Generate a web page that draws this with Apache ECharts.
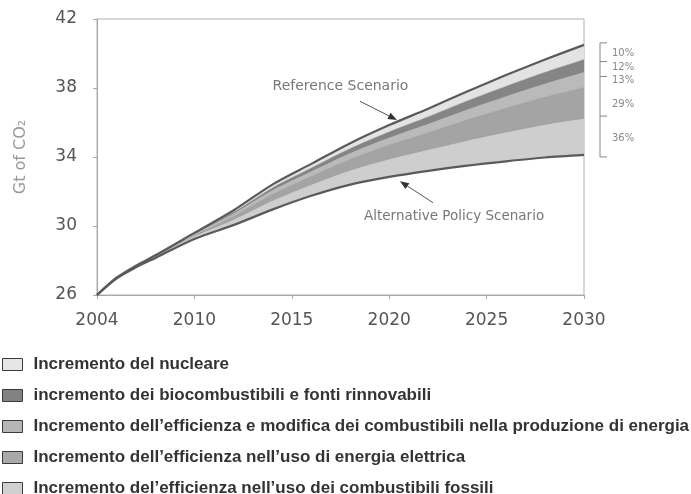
<!DOCTYPE html>
<html>
<head>
<meta charset="utf-8">
<script src="https://cdn.jsdelivr.net/npm/echarts@6/dist/echarts.min.js"></script>
<style>
html,body{margin:0;padding:0;background:#fff;}
#c{width:691px;height:494px;}
</style>
</head>
<body>
<div id="c"></div>
<script>
// Axis positions (the first position is drawn and labelled as 2004 in the source)
const years = [2005, 2006, 2007, 2008, 2010, 2012, 2014, 2016, 2018, 2020, 2022, 2024, 2026, 2028, 2030];
const xTickLabels = {2005: '2004', 2010: '2010', 2015: '2015', 2020: '2020', 2025: '2025', 2030: '2030'};
const yTicks = [26, 30, 34, 38, 42];

const referenceScenario   = [26.0, 27.0, 27.7, 28.3, 29.6, 30.9, 32.4, 33.6, 34.8, 35.85, 36.8, 37.8, 38.75, 39.65, 40.5];
const alternativeScenario = [26.0, 26.95, 27.6, 28.15, 29.25, 30.05, 30.95, 31.75, 32.4, 32.85, 33.2, 33.5, 33.75, 33.97, 34.12];

// Reductions (Gt) stacked above the Alternative Policy Scenario
const fossilEff  = [0, 0.02, 0.03, 0.05, 0.12, 0.28, 0.48, 0.61, 0.79, 0.99, 1.19, 1.42, 1.65, 1.87, 2.08];
const elecEff    = [0, 0.015, 0.03, 0.045, 0.10, 0.25, 0.42, 0.54, 0.70, 0.87, 1.04, 1.25, 1.45, 1.65, 1.85];
const powerGen   = [0, 0.005, 0.015, 0.02, 0.05, 0.11, 0.19, 0.24, 0.31, 0.39, 0.47, 0.56, 0.65, 0.74, 0.85];
const renewables = [0, 0.005, 0.01, 0.015, 0.04, 0.10, 0.17, 0.22, 0.29, 0.36, 0.43, 0.52, 0.60, 0.68, 0.75];
const nuclear    = [0, 0.005, 0.015, 0.02, 0.04, 0.11, 0.19, 0.24, 0.31, 0.39, 0.47, 0.55, 0.65, 0.74, 0.85];

const shareLabels = ['10%', '12%', '13%', '29%', '36%'];

const names = {
  nuclear: 'Incremento del nucleare',
  renew: 'incremento dei biocombustibili e fonti rinnovabili',
  power: 'Incremento dell’efficienza e modifica dei combustibili nella produzione di energia',
  elec: 'Incremento dell’efficienza nell’uso di energia elettrica',
  fossil: 'Incremento del’efficienza nell’uso dei combustibili fossili'
};
const colors = {
  nuclear: '#e3e3e3', renew: '#858585', power: '#bababa', elec: '#a4a4a4', fossil: '#cecece'
};
const legendColors = {
  nuclear: '#e6e6e6', renew: '#828282', power: '#b6b6b6', elec: '#a9a9a9', fossil: '#d0d0d0'
};

// value first so that the library stacks along y
const pair = arr => years.map((y, i) => [arr[i], y]);
const enc = {x: 1, y: 0};

const chart = echarts.init(document.getElementById('c'), null, {renderer: 'canvas'});

function band(key, arr) {
  return {
    name: names[key], type: 'line', stack: 'cut', data: pair(arr), encode: enc,
    symbol: 'none', smooth: 0.3,
    lineStyle: {width: 0.5, color: colors[key]},
    itemStyle: {color: colors[key]},
    areaStyle: {color: colors[key], opacity: 1},
    z: 2
  };
}

const axisFont = {fontFamily: 'DejaVu Sans', fontSize: 17, color: '#555'};

chart.setOption({
  animation: false,
  backgroundColor: '#fff',
  grid: {left: 97, top: 19, right: 107, bottom: 199, show: true, borderColor: '#b0b0b0', borderWidth: 1, containLabel: false},
  xAxis: {
    type: 'value', min: 2005, max: 2030, interval: 5,
    axisLine: {show: true, lineStyle: {color: '#a8a8a8'}},
    axisTick: {show: true, length: 4, lineStyle: {color: '#a8a8a8'}},
    splitLine: {show: false},
    axisLabel: Object.assign({margin: 17, formatter: v => xTickLabels[v] || ''}, axisFont)
  },
  yAxis: {
    type: 'value', min: 26, max: 42, interval: 4,
    name: 'Gt of CO₂', nameLocation: 'middle', nameGap: 68,
    nameTextStyle: {fontFamily: 'DejaVu Sans', fontSize: 16, color: '#999'},
    axisLine: {show: true, lineStyle: {color: '#a8a8a8'}},
    axisTick: {show: true, length: 4, lineStyle: {color: '#a8a8a8'}},
    splitLine: {show: false},
    axisLabel: Object.assign({margin: 20, formatter: v => yTicks.includes(v) ? String(v) : ''}, axisFont)
  },
  legend: {
    orient: 'vertical', left: 2, top: 356, height: 200, padding: 0,
    itemWidth: 20, itemHeight: 12, itemGap: 14,
    selectedMode: false,
    textStyle: {fontFamily: 'Liberation Sans', fontWeight: 'bold', fontSize: 17, color: '#333', lineHeight: 17, padding: [0, 0, 0, 6]},
    data: ['nuclear', 'renew', 'power', 'elec', 'fossil'].map(k => ({
      name: names[k], icon: 'rect',
      itemStyle: {color: legendColors[k], borderColor: '#3a3a3a', borderWidth: 1}
    }))
  },
  series: [
    {name: 'base', type: 'line', stack: 'cut', data: pair(alternativeScenario), encode: enc, symbol: 'none',
     smooth: 0.3, lineStyle: {width: 0, opacity: 0}, silent: true, z: 1},
    band('fossil', fossilEff),
    band('elec', elecEff),
    band('power', powerGen),
    band('renew', renewables),
    band('nuclear', nuclear),
    {name: 'Reference Scenario', type: 'line', data: pair(referenceScenario), encode: enc, symbol: 'none',
     smooth: 0.3, lineStyle: {color: '#5a5a5a', width: 2.2}, z: 5, silent: true},
    {name: 'Alternative Policy Scenario', type: 'line', data: pair(alternativeScenario), encode: enc, symbol: 'none',
     smooth: 0.3, lineStyle: {color: '#5a5a5a', width: 2.2}, z: 5, silent: true}
  ]
});

// ---- annotations positioned from data coordinates ----
const P = (x, y) => chart.convertToPixel({gridIndex: 0}, [x, y]);
const g = [];
const labelFont = 'DejaVu Sans';

function arrow(from, to) {
  const a = P(from[0], from[1]), b = P(to[0], to[1]);
  const dx = b[0] - a[0], dy = b[1] - a[1], L = Math.hypot(dx, dy);
  const ux = dx / L, uy = dy / L, hl = 9, hw = 3.5;
  const base = [b[0] - ux * hl, b[1] - uy * hl];
  g.push({type: 'line', shape: {x1: a[0], y1: a[1], x2: base[0], y2: base[1]}, style: {stroke: '#555', lineWidth: 1}, z: 10});
  g.push({type: 'polygon', shape: {points: [b, [base[0] - uy * hw, base[1] + ux * hw], [base[0] + uy * hw, base[1] - ux * hw]]}, style: {fill: '#333'}, z: 10});
}

const refText = P(2017.5, 38.1);
g.push({type: 'text', x: refText[0], y: refText[1], style: {text: 'Reference Scenario', font: '14px ' + labelFont, fill: '#777', align: 'center', verticalAlign: 'middle'}, z: 10});
arrow([2018.5, 37.23], [2020.4, 36.15]);

const altText = P(2023.33, 30.54);
g.push({type: 'text', x: altText[0], y: altText[1], style: {text: 'Alternative Policy Scenario', font: '13.5px ' + labelFont, fill: '#777', align: 'center', verticalAlign: 'middle'}, z: 10});
arrow([2022.25, 31.35], [2020.55, 32.6]);

// bracket at 2030 from band boundaries
const lastIdx = years.length - 1;
const bands2030 = [nuclear[lastIdx], renewables[lastIdx], powerGen[lastIdx], elecEff[lastIdx], fossilEff[lastIdx]];
let level = referenceScenario[lastIdx];
const bounds = [level];
bands2030.forEach(v => { level -= v; bounds.push(level); });
const bx = P(2030, 30)[0] + 16;
const by = bounds.map(v => P(2030, v)[1]);
g.push({type: 'line', shape: {x1: bx, y1: by[0] - 2, x2: bx, y2: by[5] + 2}, style: {stroke: '#888', lineWidth: 1}, z: 10});
[[0, -2], [1, 2], [2, 4], [4, -3], [5, 2]].forEach(([i, off]) => {
  g.push({type: 'line', shape: {x1: bx, y1: by[i] + off, x2: bx + 7, y2: by[i] + off}, style: {stroke: '#888', lineWidth: 1}, z: 10});
});
shareLabels.forEach((t, i) => {
  g.push({type: 'text', x: bx + 12, y: (by[i] + by[i + 1]) / 2 + 1, style: {text: t, font: '10px ' + labelFont, fill: '#888', align: 'left', verticalAlign: 'middle'}, z: 10});
});

chart.setOption({graphic: g});
</script>
</body>
</html>
